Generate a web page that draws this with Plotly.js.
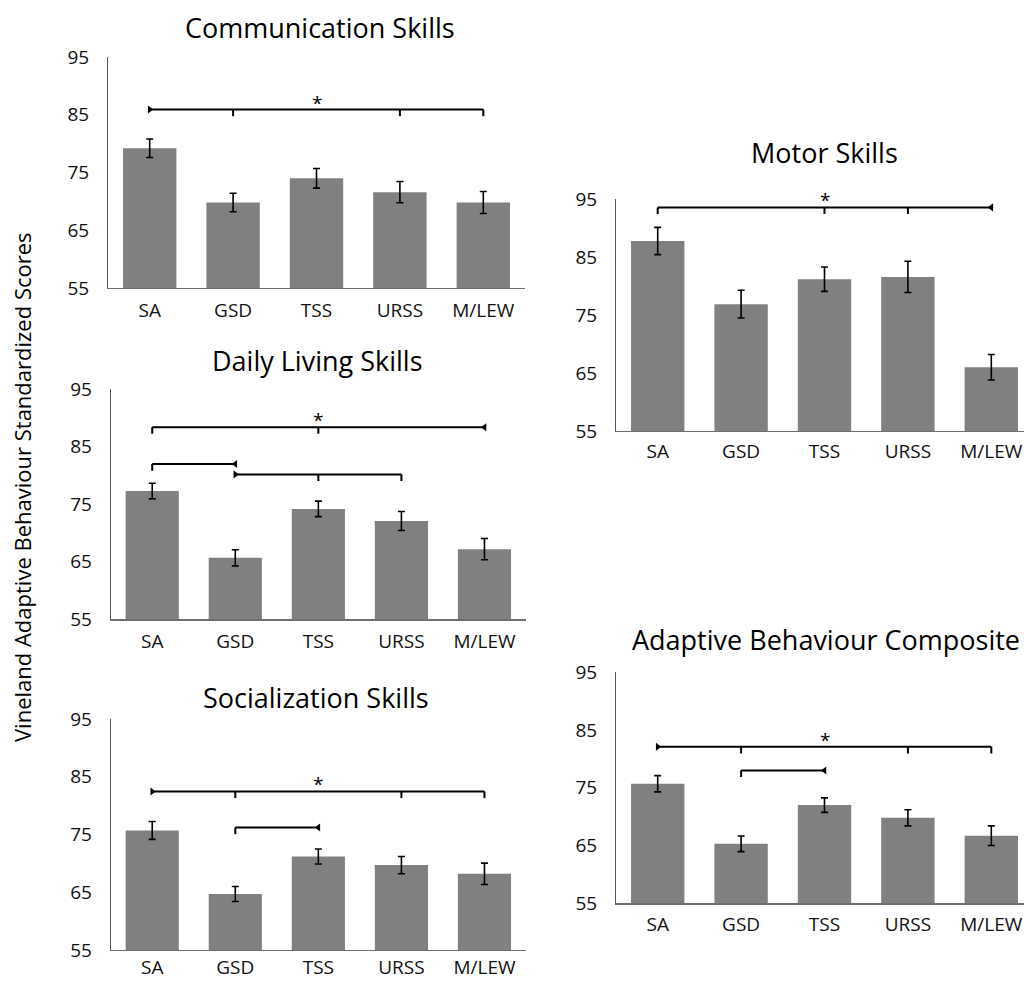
<!DOCTYPE html>
<html>
<head>
<meta charset="utf-8">
<script src="https://cdn.plot.ly/plotly-3.0.1.min.js"></script>
<style>html,body{margin:0;padding:0;background:#fff;}#chart{width:1024px;height:981px;}</style>
</head>
<body>
<div id="chart"></div>
<script>
// ---- data ----
const categories = ['SA', 'GSD', 'TSS', 'URSS', 'M/LEW'];
const yTicks = [55, 65, 75, 85, 95];

const commMeans   = [79.2, 69.8, 74.0, 71.6, 69.8];
const commErr     = [1.6, 1.6, 1.7, 1.85, 1.9];
const motorMeans  = [87.8, 76.9, 81.2, 81.6, 66.0];
const motorErr    = [2.35, 2.4, 2.1, 2.7, 2.2];
const dailyMeans  = [77.3, 65.7, 74.2, 72.1, 67.2];
const dailyErr    = [1.35, 1.4, 1.35, 1.65, 1.85];
const socialMeans = [75.7, 64.7, 71.2, 69.7, 68.2];
const socialErr   = [1.55, 1.3, 1.3, 1.5, 1.85];
const abcMeans    = [75.7, 65.3, 72.0, 69.8, 66.7];
const abcErr      = [1.4, 1.35, 1.25, 1.4, 1.7];

// significance brackets: level, span, down-ticks, end markers, star
const commBrackets = [
  {y: 85.9, from: 'SA', to: 'M/LEW', ticks: ['GSD', 'URSS', 'M/LEW'], arrows: ['SA'], star: 'TSS'}
];
const motorBrackets = [
  {y: 93.6, from: 'SA', to: 'M/LEW', ticks: ['SA', 'TSS', 'URSS'], arrows: ['M/LEW'], star: 'TSS'}
];
const dailyBrackets = [
  {y: 88.4, from: 'SA', to: 'M/LEW', ticks: ['SA', 'TSS'], arrows: ['M/LEW'], star: 'TSS'},
  {y: 82.0, from: 'SA', to: 'GSD', ticks: ['SA'], arrows: ['GSD']},
  {y: 80.2, from: 'GSD', to: 'URSS', ticks: ['TSS', 'URSS'], arrows: ['GSD']}
];
const socialBrackets = [
  {y: 82.45, from: 'SA', to: 'M/LEW', ticks: ['GSD', 'URSS', 'M/LEW'], arrows: ['SA'], star: 'TSS'},
  {y: 76.2, from: 'GSD', to: 'TSS', ticks: ['GSD'], arrows: ['TSS']}
];
const abcBrackets = [
  {y: 82.1, from: 'SA', to: 'M/LEW', ticks: ['GSD', 'URSS', 'M/LEW'], arrows: ['SA'], star: 'TSS'},
  {y: 78.0, from: 'GSD', to: 'TSS', ticks: ['GSD'], arrows: ['TSS']}
];

const panelTitles = ['Communication Skills', 'Motor Skills', 'Daily Living Skills', 'Socialization Skills', 'Adaptive Behaviour Composite'];
const yAxisTitle = 'Vineland Adaptive Behaviour Standardized Scores';

// ---- layout geometry (pixels) ----
const W = 1024, H = 981;
const panels = [
  {means: commMeans,   err: commErr,   br: commBrackets,   x0: 108, x1: 525,  top: 57,    bot: 288,   tx: 320, ty: 27,  lab: 5},
  {means: motorMeans,  err: motorErr,  br: motorBrackets,  x0: 616, x1: 1033, top: 199.3, bot: 431,   tx: 824, ty: 152, lab: 3},
  {means: dailyMeans,  err: dailyErr,  br: dailyBrackets,  x0: 110.7, x1: 526, top: 389.3, bot: 619.3, tx: 317, ty: 360, lab: 5},
  {means: socialMeans, err: socialErr, br: socialBrackets, x0: 110.7, x1: 526, top: 719, bot: 950, tx: 316, ty: 697, lab: 0},
  {means: abcMeans,    err: abcErr,    br: abcBrackets,    x0: 616, x1: 1033, top: 672.3, bot: 903.3, tx: 826, ty: 639, lab: 4}
];

const FONT = '"Open Sans", sans-serif';
const tickDrop = 1.15;
const traces = [];
const annotations = [];
const layout = {
  width: W, height: H,
  margin: {l: 0, r: 0, t: 0, b: 0},
  paper_bgcolor: '#fff', plot_bgcolor: 'rgba(0,0,0,0)',
  showlegend: false,
  bargap: 0.36,
  font: {family: FONT, color: '#000'},
  annotations: annotations
};

panels.forEach((p, i) => {
  const n = i + 1;
  const xa = 'x' + (n === 1 ? '' : n), ya = 'y' + (n === 1 ? '' : n);
  const xk = 'xaxis' + (n === 1 ? '' : n), yk = 'yaxis' + (n === 1 ? '' : n);
  const x1 = Math.min(p.x1, W);
  const catW = (p.x1 - p.x0) / categories.length;
  const rangeMax = -0.5 + (x1 - p.x0) / catW;

  traces.push({
    type: 'bar', x: categories, y: p.means, xaxis: xa, yaxis: ya,
    marker: {color: '#808080'},
    error_y: {type: 'data', array: p.err, visible: true, color: '#000', thickness: 1.6, width: 3.5},
    hoverinfo: 'skip'
  });

  // brackets
  p.br.forEach(b => {
    const lx = [b.from, b.to, null], ly = [b.y, b.y, null];
    b.ticks.forEach(t => { lx.push(t, t, null); ly.push(b.y, b.y - tickDrop, null); });
    traces.push({type: 'scatter', mode: 'lines', x: lx, y: ly, xaxis: xa, yaxis: ya,
      line: {color: '#000', width: 2}, hoverinfo: 'skip', cliponaxis: false});
    b.arrows.forEach(a => {
      const isLeft = a === b.from;
      traces.push({type: 'scatter', mode: 'markers', x: [a], y: [b.y], xaxis: xa, yaxis: ya,
        marker: {symbol: isLeft ? 'triangle-right' : 'triangle-left', size: 7, color: '#000'},
        hoverinfo: 'skip', cliponaxis: false});
    });
    if (b.star) {
      annotations.push({xref: xa, yref: ya, x: b.star, y: b.y, text: '*', showarrow: false,
        yanchor: 'bottom', yshift: -8, font: {family: FONT, size: 19, color: '#000'}});
    }
  });

  layout[xk] = {
    domain: [p.x0 / W, x1 / W], anchor: ya, type: 'category',
    range: [-0.5, rangeMax], fixedrange: true,
    showline: true, linecolor: '#6f6f6f', linewidth: 1.3,
    showgrid: false, zeroline: false,
    ticks: 'outside', ticklen: p.lab, tickcolor: 'rgba(0,0,0,0)',
    tickfont: {family: FONT, size: 19, color: '#111'}
  };
  layout[yk] = {
    domain: [1 - p.bot / H, 1 - p.top / H], anchor: xa,
    range: [55, 95], tickvals: yTicks, fixedrange: true,
    showline: true, linecolor: '#555', linewidth: 1,
    showgrid: false, zeroline: false,
    ticks: 'outside', ticklen: 14, tickcolor: 'rgba(0,0,0,0)',
    tickfont: {family: FONT, size: 19, color: '#111'}
  };

  annotations.push({xref: 'paper', yref: 'paper', x: p.tx / W, y: 1 - p.ty / H,
    xanchor: 'center', yanchor: 'middle', text: panelTitles[i], showarrow: false,
    font: {family: FONT, size: 27, color: '#000'}});
});

annotations.push({xref: 'paper', yref: 'paper', x: 22 / W, y: 1 - 487 / H,
  xanchor: 'center', yanchor: 'middle', textangle: -90, text: yAxisTitle, showarrow: false,
  font: {family: FONT, size: 22, color: '#000'}});

Plotly.newPlot('chart', traces, layout, {staticPlot: true, displayModeBar: false});
</script>
</body>
</html>
